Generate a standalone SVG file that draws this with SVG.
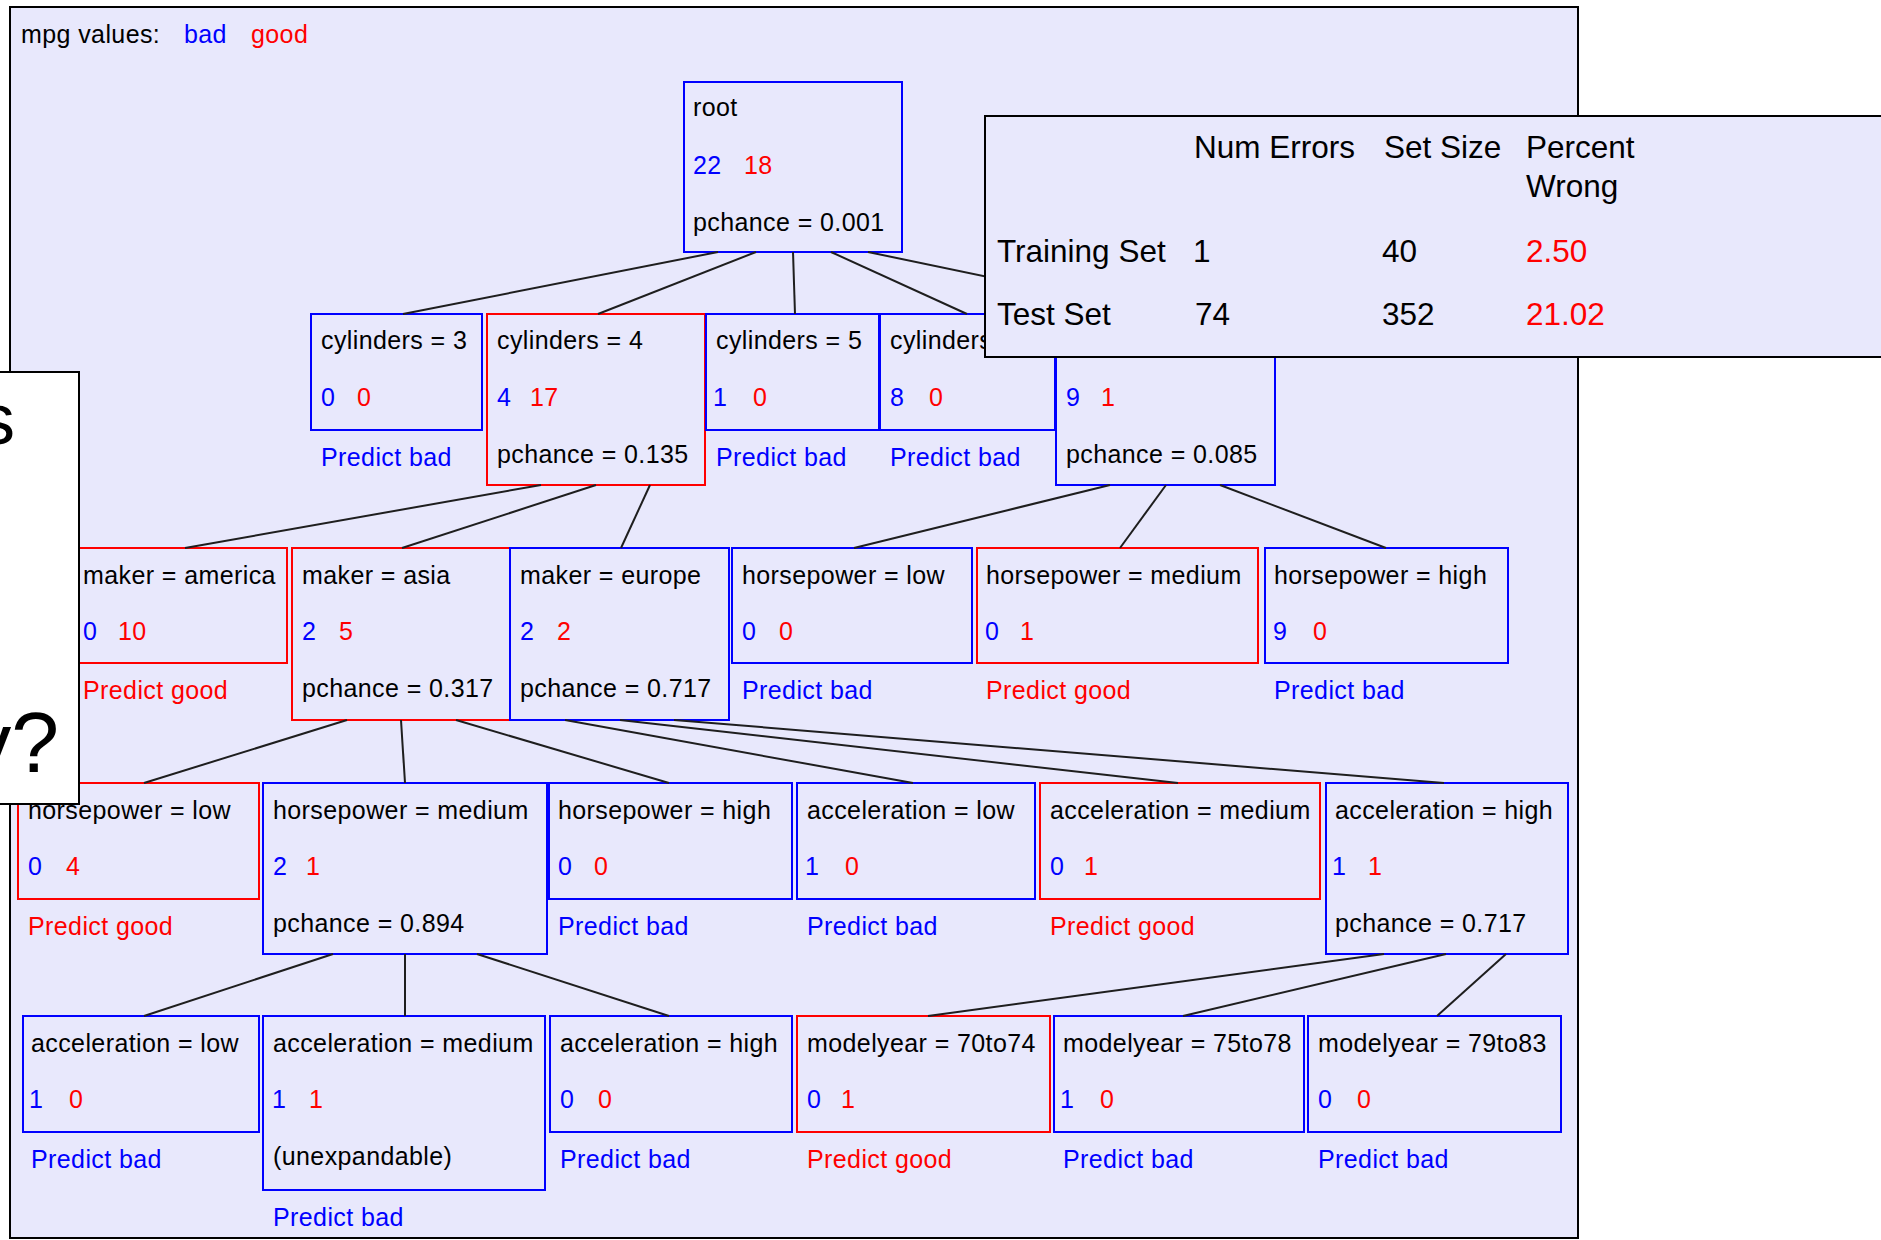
<svg xmlns="http://www.w3.org/2000/svg" width="1881" height="1240" viewBox="0 0 1881 1240">
<style>
.t{font-family:"Liberation Sans",Arial,sans-serif;font-size:25px;letter-spacing:0.4px;fill:#000}
.s{font-family:"Liberation Sans",Arial,sans-serif;font-size:31.5px;fill:#000}
.b{fill:#0000ff}
.r{fill:#ff0000}
.nb{fill:none;stroke:#0000ff;stroke-width:2}
.nr{fill:none;stroke:#ff0000;stroke-width:2}
.edges line{stroke:#1e1e1e;stroke-width:2}
</style>
<rect x="0" y="0" width="1881" height="1240" fill="#ffffff"/>
<rect id="panel" x="10" y="7" width="1568" height="1231" fill="#e8e8fc" stroke="#000" stroke-width="2"/>
<g id="legend">
<text class="t" x="21" y="43">mpg values:</text>
<text class="t b" x="184" y="43">bad</text>
<text class="t r" x="251" y="43">good</text>
</g>

<g id="root"><rect class="nb" x="684" y="82" width="218" height="170"/>
<text class="t" x="693" y="116">root</text><text class="t b" x="693" y="174">22</text><text class="t r" x="744" y="174">18</text>
<text class="t" x="693" y="231">pchance = 0.001</text></g>

<g id="cyl3"><rect class="nb" x="311" y="314" width="171" height="116"/>
<text class="t" x="321" y="349">cylinders = 3</text><text class="t b" x="321" y="406">0</text><text class="t r" x="357" y="406">0</text>
<text class="t b" x="321" y="466">Predict bad</text></g>
<g id="cyl4"><rect class="nr" x="487" y="314" width="218" height="171"/>
<text class="t" x="497" y="349">cylinders = 4</text><text class="t b" x="497" y="406">4</text><text class="t r" x="530" y="406">17</text>
<text class="t" x="497" y="463">pchance = 0.135</text></g>
<g id="cyl5"><rect class="nb" x="706" y="314" width="173" height="116"/>
<text class="t" x="716" y="349">cylinders = 5</text><text class="t b" x="713" y="406">1</text><text class="t r" x="753" y="406">0</text>
<text class="t b" x="716" y="466">Predict bad</text></g>
<g id="cyl6"><rect class="nb" x="880" y="314" width="175" height="116"/>
<text class="t" x="890" y="349">cylinders = 6</text><text class="t b" x="890" y="406">8</text><text class="t r" x="929" y="406">0</text>
<text class="t b" x="890" y="466">Predict bad</text></g>
<g id="cyl8"><rect class="nb" x="1056" y="314" width="219" height="171"/>
<text class="t b" x="1066" y="406">9</text><text class="t r" x="1101" y="406">1</text>
<text class="t" x="1066" y="463">pchance = 0.085</text></g>

<g id="america"><rect class="nr" x="73" y="548" width="214" height="115"/>
<text class="t" x="83" y="584">maker = america</text><text class="t b" x="83" y="640">0</text><text class="t r" x="118" y="640">10</text>
<text class="t r" x="83" y="699">Predict good</text></g>
<g id="asia"><rect class="nr" x="292" y="548" width="218" height="172"/>
<text class="t" x="302" y="584">maker = asia</text><text class="t b" x="302" y="640">2</text><text class="t r" x="339" y="640">5</text>
<text class="t" x="302" y="697">pchance = 0.317</text></g>
<g id="europe"><rect class="nb" x="510" y="548" width="219" height="172"/>
<text class="t" x="520" y="584">maker = europe</text><text class="t b" x="520" y="640">2</text><text class="t r" x="557" y="640">2</text>
<text class="t" x="520" y="697">pchance = 0.717</text></g>
<g id="hp-low-1"><rect class="nb" x="732" y="548" width="240" height="115"/>
<text class="t" x="742" y="584">horsepower = low</text><text class="t b" x="742" y="640">0</text><text class="t r" x="779" y="640">0</text>
<text class="t b" x="742" y="699">Predict bad</text></g>
<g id="hp-medium-1"><rect class="nr" x="977" y="548" width="281" height="115"/>
<text class="t" x="986" y="584">horsepower = medium</text><text class="t b" x="985" y="640">0</text><text class="t r" x="1020" y="640">1</text>
<text class="t r" x="986" y="699">Predict good</text></g>
<g id="hp-high-1"><rect class="nb" x="1265" y="548" width="243" height="115"/>
<text class="t" x="1274" y="584">horsepower = high</text><text class="t b" x="1273" y="640">9</text><text class="t r" x="1313" y="640">0</text>
<text class="t b" x="1274" y="699">Predict bad</text></g>

<g id="hp-low-2"><rect class="nr" x="18" y="783" width="241" height="116"/>
<text class="t" x="28" y="819">horsepower = low</text><text class="t b" x="28" y="875">0</text><text class="t r" x="66" y="875">4</text>
<text class="t r" x="28" y="935">Predict good</text></g>
<g id="hp-medium-2"><rect class="nb" x="263" y="783" width="284" height="171"/>
<text class="t" x="273" y="819">horsepower = medium</text><text class="t b" x="273" y="875">2</text><text class="t r" x="306" y="875">1</text>
<text class="t" x="273" y="932">pchance = 0.894</text></g>
<g id="hp-high-2"><rect class="nb" x="549" y="783" width="243" height="116"/>
<text class="t" x="558" y="819">horsepower = high</text><text class="t b" x="558" y="875">0</text><text class="t r" x="594" y="875">0</text>
<text class="t b" x="558" y="935">Predict bad</text></g>
<g id="acc-low-1"><rect class="nb" x="797" y="783" width="238" height="116"/>
<text class="t" x="807" y="819">acceleration = low</text><text class="t b" x="805" y="875">1</text><text class="t r" x="845" y="875">0</text>
<text class="t b" x="807" y="935">Predict bad</text></g>
<g id="acc-medium-1"><rect class="nr" x="1040" y="783" width="280" height="116"/>
<text class="t" x="1050" y="819">acceleration = medium</text><text class="t b" x="1050" y="875">0</text><text class="t r" x="1084" y="875">1</text>
<text class="t r" x="1050" y="935">Predict good</text></g>
<g id="acc-high-1"><rect class="nb" x="1326" y="783" width="242" height="171"/>
<text class="t" x="1335" y="819">acceleration = high</text><text class="t b" x="1332" y="875">1</text><text class="t r" x="1368" y="875">1</text>
<text class="t" x="1335" y="932">pchance = 0.717</text></g>

<g id="acc-low-2"><rect class="nb" x="23" y="1016" width="236" height="116"/>
<text class="t" x="31" y="1052">acceleration = low</text><text class="t b" x="29" y="1108">1</text><text class="t r" x="69" y="1108">0</text>
<text class="t b" x="31" y="1168">Predict bad</text></g>
<g id="acc-medium-2"><rect class="nb" x="263" y="1016" width="282" height="174"/>
<text class="t" x="273" y="1052">acceleration = medium</text><text class="t b" x="272" y="1108">1</text><text class="t r" x="309" y="1108">1</text>
<text class="t" x="273" y="1165">(unexpandable)</text>
<text class="t b" x="273" y="1226">Predict bad</text></g>
<g id="acc-high-2"><rect class="nb" x="550" y="1016" width="242" height="116"/>
<text class="t" x="560" y="1052">acceleration = high</text><text class="t b" x="560" y="1108">0</text><text class="t r" x="598" y="1108">0</text>
<text class="t b" x="560" y="1168">Predict bad</text></g>
<g id="my-70to74"><rect class="nr" x="797" y="1016" width="253" height="116"/>
<text class="t" x="807" y="1052">modelyear = 70to74</text><text class="t b" x="807" y="1108">0</text><text class="t r" x="841" y="1108">1</text>
<text class="t r" x="807" y="1168">Predict good</text></g>
<g id="my-75to78"><rect class="nb" x="1054" y="1016" width="250" height="116"/>
<text class="t" x="1063" y="1052">modelyear = 75to78</text><text class="t b" x="1060" y="1108">1</text><text class="t r" x="1100" y="1108">0</text>
<text class="t b" x="1063" y="1168">Predict bad</text></g>
<g id="my-79to83"><rect class="nb" x="1308" y="1016" width="253" height="116"/>
<text class="t" x="1318" y="1052">modelyear = 79to83</text><text class="t b" x="1318" y="1108">0</text><text class="t r" x="1357" y="1108">0</text>
<text class="t b" x="1318" y="1168">Predict bad</text></g>

<g id="connectors" class="edges">
<line x1="718" y1="252" x2="403" y2="314"/>
<line x1="756" y1="252" x2="598" y2="314"/>
<line x1="793" y1="252" x2="795" y2="314"/>
<line x1="831" y1="252" x2="967" y2="314"/>
<line x1="868" y1="252" x2="1165" y2="314"/>
<line x1="541" y1="485" x2="185" y2="548"/>
<line x1="596" y1="485" x2="402" y2="548"/>
<line x1="650" y1="485" x2="621" y2="548"/>
<line x1="1110" y1="485" x2="854" y2="548"/>
<line x1="1166" y1="485" x2="1120" y2="548"/>
<line x1="1220" y1="485" x2="1386" y2="548"/>
<line x1="347" y1="720" x2="144" y2="783"/>
<line x1="401" y1="720" x2="405" y2="783"/>
<line x1="456" y1="720" x2="669" y2="783"/>
<line x1="565" y1="720" x2="913" y2="783"/>
<line x1="620" y1="720" x2="1178" y2="783"/>
<line x1="674" y1="720" x2="1444" y2="783"/>
<line x1="333" y1="954" x2="144" y2="1016"/>
<line x1="405" y1="954" x2="405" y2="1016"/>
<line x1="477" y1="954" x2="669" y2="1016"/>
<line x1="1384" y1="954" x2="928" y2="1016"/>
<line x1="1446" y1="954" x2="1183" y2="1016"/>
<line x1="1506" y1="954" x2="1437" y2="1016"/>
</g>

<g id="stats">
<rect x="985" y="116" width="910" height="241" fill="#e8e8fc" stroke="#000" stroke-width="2"/>
<text class="s" x="1194" y="158">Num Errors</text>
<text class="s" x="1384" y="158">Set Size</text>
<text class="s" x="1526" y="158">Percent</text>
<text class="s" x="1526" y="197">Wrong</text>
<text class="s" x="997" y="262">Training Set</text>
<text class="s" x="1193" y="262">1</text>
<text class="s" x="1382" y="262">40</text>
<text class="s r" x="1526" y="262">2.50</text>
<text class="s" x="997" y="325">Test Set</text>
<text class="s" x="1195" y="325">74</text>
<text class="s" x="1382" y="325">352</text>
<text class="s r" x="1526" y="325">21.02</text>
</g>

<g id="overlay">
<rect x="-2" y="372" width="81" height="432" fill="#ffffff" stroke="#000" stroke-width="2"/>
<text x="15" y="444" text-anchor="end" font-family="Liberation Sans, Arial, sans-serif" font-size="72" fill="#000">s</text>
<text x="59" y="772" text-anchor="end" font-family="Liberation Sans, Arial, sans-serif" font-size="86" fill="#000">y?</text>
</g>
</svg>
